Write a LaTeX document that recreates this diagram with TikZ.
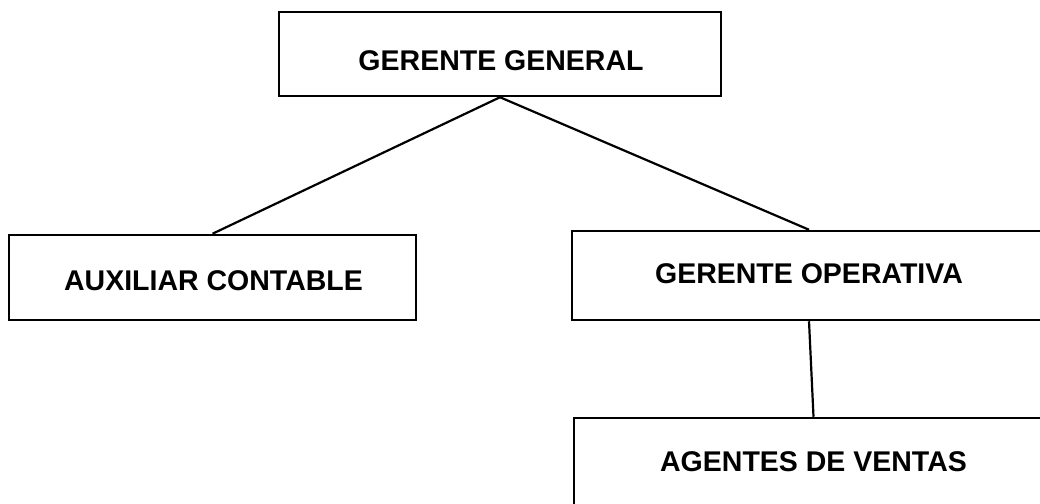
\documentclass[tikz,border=0pt]{standalone}
\usepackage{fontspec}
\setmainfont{Liberation Sans}
\begin{document}
\begin{tikzpicture}[x=1pt,y=1pt,
  box/.style={draw=black, line width=2.5pt, fill=none, inner sep=0pt},
  lbl/.style={inner sep=0pt, font=\fontsize{28.5}{34}\selectfont\bfseries},
  conn/.style={draw=black, line width=2.2pt}]
\useasboundingbox (0,0) rectangle (1040,-503);
\clip (0,0) rectangle (1040,-503);
\node[box, minimum width=442pt, minimum height=84pt] (gg) at (500,-54) {};
\node[lbl] (ggt) at (501,-61) {GERENTE GENERAL};
\node[box, minimum width=407pt, minimum height=85pt] (ac) at (212.5,-277.5) {};
\node[lbl] (act) at (213.5,-281) {AUXILIAR CONTABLE};
\node[box, minimum width=474pt, minimum height=89pt] (go) at (809,-275.5) {};
\node[lbl] (got) at (809,-274) {GERENTE OPERATIVA};
\node[box, minimum width=479pt, minimum height=90pt] (av) at (813.5,-463) {};
\node[lbl] (avt) at (813.5,-461.5) {AGENTES DE VENTAS};
\draw[conn] (gg.south) -- (ac.north);
\draw[conn] (gg.south) -- (go.north);
\draw[conn] (go.south) -- (av.north);
\end{tikzpicture}
\end{document}
